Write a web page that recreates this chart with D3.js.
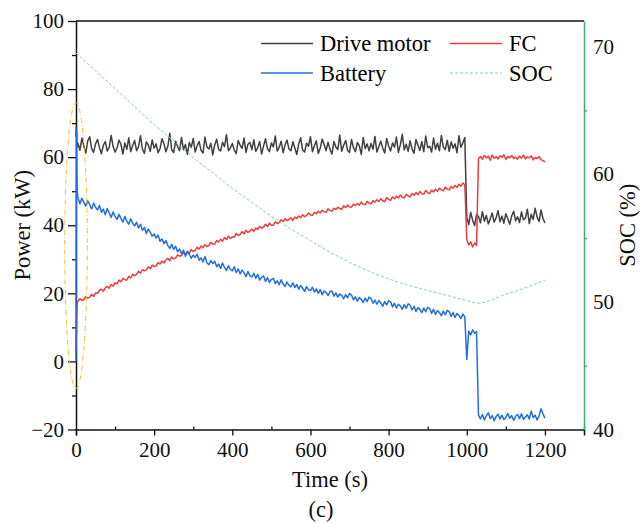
<!DOCTYPE html>
<html>
<head>
<meta charset="utf-8">
<script src="https://cdn.jsdelivr.net/npm/d3@7"></script>
<style>
  body { margin: 0; background: #fff; }
</style>
</head>
<body>
<svg id="chart" width="641" height="523" font-family="Liberation Serif"></svg>
<script>
// time axis (s)
const time = [0, 1, 2, 3].concat(d3.range(5, 1201, 5));

// power (kW)
const driveMotor = [66, 69, 65, 63,
  64.1, 62.0, 65.6, 63.3, 61.2, 64.8, 66.0, 62.5, 61.4, 63.9,
  65.2, 62.8, 61.0, 63.5, 64.6, 61.8, 62.9, 66.4, 63.1, 61.5,
  62.7, 65.0, 63.8, 60.9, 64.2, 62.3, 65.7, 61.6, 63.4, 64.9,
  61.9, 63.0, 66.3, 62.4, 61.1, 64.5, 63.6, 61.7, 65.1, 62.6,
  63.9, 61.3, 62.5, 65.4, 64.0, 61.6, 63.2, 67.0, 62.1, 61.4,
  64.7, 63.1, 61.9, 65.8, 62.2, 63.7, 60.8, 64.3, 62.9, 65.5,
  61.5, 63.4, 64.6, 62.0, 61.2, 65.9, 63.0, 62.4, 64.1, 60.7,
  63.6, 65.3, 62.3, 61.8, 64.4, 63.1, 66.6, 61.9, 62.7, 64.0,
  62.1, 61.0, 64.9, 63.5, 62.6, 65.6, 61.4, 63.8, 64.3, 62.2,
  65.1, 61.7, 62.8, 64.6, 60.9, 63.3, 65.4, 62.5, 61.6, 64.2,
  63.0, 66.2, 61.8, 62.9, 64.7, 61.3, 63.6, 65.0, 62.4, 61.9,
  64.5, 62.7, 60.8, 63.9, 65.7, 62.1, 61.5, 64.1, 63.2, 66.0,
  61.6, 63.3, 64.8, 61.1, 62.6, 65.3, 63.7, 61.9, 64.4, 62.3,
  60.9, 64.6, 63.0, 62.2, 66.5, 61.7, 63.5, 64.9, 62.0, 61.4,
  65.2, 62.8, 61.6, 64.3, 63.4, 60.8, 65.8, 62.5, 63.9, 61.9,
  64.0, 62.3, 66.1, 61.5, 63.1, 64.7, 62.6, 61.2, 65.5, 63.3,
  61.8, 64.2, 62.9, 65.9, 61.4, 63.6, 66.7, 62.1, 63.8, 61.7,
  64.8, 62.4, 61.1, 65.2, 63.5, 62.0, 64.6, 61.6, 66.2, 62.8,
  63.2, 61.5, 65.6, 62.3, 64.1, 61.9, 66.4, 63.0, 62.2, 65.0,
  61.7, 64.5, 62.6, 63.9, 61.3, 66.3, 62.9, 64.2, 65.8,
  42.3, 40.2, 43.8, 41.5, 39.9, 43.1, 42.6, 40.7, 44.0, 41.2,
  42.9, 40.4, 41.8, 43.6, 40.9, 42.2, 44.3, 41.0, 42.7, 40.6,
  43.4, 41.9, 40.3, 42.8, 44.1, 41.3, 42.5, 40.8, 43.9, 41.6,
  42.1, 44.7, 40.5, 43.2, 41.7, 45.0, 42.4, 41.1, 44.5, 42.0,
  40.7];

const fc = [3, 7, 13, 17,
  17.7, 18.4, 17.9, 18.2, 19.0, 18.6, 18.9, 19.7, 19.1, 20.1,
  20.0, 20.9, 21.2, 20.6, 21.7, 22.0, 21.5, 22.6, 22.1, 23.1,
  22.8, 23.9, 23.4, 24.4, 24.0, 23.9, 25.0, 24.5, 25.6, 25.2,
  25.6, 26.5, 25.9, 27.0, 26.6, 26.9, 27.8, 27.2, 28.3, 27.9,
  28.0, 29.0, 28.6, 29.5, 28.9, 29.8, 30.3, 29.6, 30.7, 30.1,
  30.4, 31.3, 30.9, 31.1, 32.0, 31.5, 32.4, 31.8, 32.9, 32.3,
  32.6, 33.5, 33.0, 33.9, 33.4, 34.3, 33.7, 34.0, 35.0, 34.4,
  34.5, 35.5, 35.1, 35.9, 35.3, 36.4, 35.8, 36.8, 36.1, 36.6,
  36.5, 37.6, 37.0, 37.3, 38.1, 37.5, 38.5, 37.9, 38.3, 38.9,
  38.2, 39.2, 38.8, 39.7, 39.1, 39.5, 40.3, 39.6, 40.6, 40.0,
  40.0, 41.0, 40.5, 40.8, 41.6, 41.1, 41.9, 41.3, 41.7, 42.2,
  41.4, 42.4, 42.0, 42.7, 42.2, 43.1, 42.5, 42.9, 43.6, 43.0,
  42.9, 43.8, 43.4, 44.1, 43.6, 44.4, 44.0, 43.8, 44.8, 44.3,
  44.1, 45.0, 44.6, 45.3, 44.9, 44.7, 45.7, 45.2, 45.9, 45.4,
  45.3, 46.2, 45.8, 46.4, 45.9, 46.8, 46.2, 46.0, 47.0, 46.5,
  46.3, 47.2, 46.8, 47.5, 47.0, 47.8, 47.2, 46.9, 48.1, 47.6,
  47.3, 48.3, 47.8, 48.5, 48.0, 48.9, 48.2, 48.0, 49.1, 48.6,
  48.3, 49.3, 48.8, 49.6, 49.0, 49.9, 49.3, 49.1, 50.2, 49.6,
  49.3, 50.3, 49.8, 50.6, 50.0, 50.9, 50.4, 50.1, 51.2, 50.6,
  50.4, 51.4, 50.9, 51.7, 51.1, 52.0, 51.5, 52.4, 51.9,
  35.8, 34.2, 35.1, 33.6, 34.8, 34.0, 59.6,
  60.2, 59.4, 60.5, 59.8, 60.3, 59.1, 60.6, 59.7, 60.1, 59.5,
  60.4, 59.9, 60.7, 59.3, 60.2, 59.8, 60.5, 59.6, 60.0, 59.4,
  60.3, 59.7, 60.6, 59.5, 60.1, 59.8, 60.4, 59.2, 59.9, 59.6,
  60.2, 59.3, 59.0, 58.6];

const battery = [0, 68, 58, 50,
  48.0, 46.3, 47.9, 46.8, 45.6, 47.2, 46.1, 44.8, 46.5, 45.3,
  44.5, 45.9, 43.8, 44.7, 43.1, 44.9, 43.6, 42.3, 43.9, 42.6,
  41.7, 43.2, 42.0, 40.9, 42.6, 41.2, 40.3, 41.9, 40.6, 39.8,
  40.9, 39.2, 40.3, 38.5, 39.4, 37.6, 38.9, 37.9, 36.8, 37.4,
  36.2, 37.1, 35.3, 36.0, 34.6, 35.5, 34.1, 33.2, 34.4, 32.9,
  33.8, 32.2, 33.0, 31.6, 32.7, 30.9, 32.1, 31.4, 30.3, 31.2,
  30.6, 31.5, 29.7, 30.4, 29.2, 30.8, 29.0, 28.4, 29.6, 28.7,
  29.4, 27.8, 28.6, 27.3, 28.9, 27.6, 26.7, 28.1, 27.0, 26.6,
  27.8, 26.1, 27.2, 25.7, 26.8, 26.0, 24.9, 26.4, 25.2, 24.8,
  25.9, 24.4, 25.6, 23.9, 24.7, 25.1, 23.5, 24.6, 23.2, 24.1,
  24.4, 22.9, 23.7, 22.5, 24.0, 22.8, 22.0, 23.3, 22.4, 21.9,
  23.1, 21.7, 22.6, 21.2, 22.3, 21.5, 20.6, 22.0, 21.0, 20.8,
  21.8, 20.4, 21.3, 20.0, 21.1, 19.6, 20.7, 20.2, 19.3, 20.5,
  20.7, 19.2, 20.1, 18.9, 19.8, 19.4, 18.4, 19.6, 18.7, 19.9,
  19.5, 18.1, 19.0, 17.7, 18.8, 18.2, 17.3, 18.6, 17.6, 18.9,
  18.5, 17.1, 18.0, 16.8, 17.9, 17.2, 16.2, 17.6, 16.6, 17.8,
  17.5, 16.0, 17.1, 15.7, 16.8, 16.3, 15.3, 16.7, 15.6, 16.9,
  16.5, 15.1, 16.2, 14.7, 15.8, 15.3, 14.3, 15.7, 14.6, 15.9,
  15.6, 14.1, 15.3, 13.8, 14.9, 14.4, 13.4, 14.8, 13.7, 15.0,
  14.6, 13.2, 14.4, 12.9, 14.1, 13.5, 12.6, 13.9, 13.1,
  0.6, 8.9, 7.8, 9.3, 8.2, 8.8, -15.8,
  -16.9, -15.6, -17.2, -16.0, -15.1, -16.8, -15.9, -17.4, -16.2, -15.5,
  -16.9, -15.8, -17.1, -16.4, -15.3, -16.7, -15.9, -17.3, -16.1, -15.6,
  -16.8, -15.4, -17.0, -16.3, -15.7, -16.9, -14.6, -16.5, -15.8, -17.2,
  -16.0, -13.9, -15.4, -16.7];

// SOC (%)
const socTime = [0, 50, 100, 150, 200, 250, 300, 350, 400, 450, 500, 550, 600,
  650, 700, 750, 800, 850, 900, 950, 1000, 1030, 1100, 1150, 1200];
const soc = [69.5, 68.1, 66.7, 65.3, 63.9, 62.6, 61.3, 60.1, 58.9, 57.8, 56.7, 55.7, 54.8,
  53.9, 53.1, 52.4, 51.8, 51.3, 50.9, 50.5, 50.1, 49.9, 50.6, 51.1, 51.7];

const xTicks = [0, 200, 400, 600, 800, 1000, 1200];
const xMinor = [100, 300, 500, 700, 900, 1100, 1300];
const yTicks = [-20, 0, 20, 40, 60, 80, 100];
const yMinor = [-10, 10, 30, 50, 70, 90];
const socTicks = [40, 50, 60, 70];
const socMinor = [45, 55, 65];

const FONT = "'Liberation Serif', serif";

const svg = d3.select("#chart");
const margin = { top: 21, right: 57, bottom: 93.5, left: 76 };
const width = 641 - margin.left - margin.right;
const height = 523 - margin.top - margin.bottom;

const x = d3.scaleLinear().domain([0, 1300]).range([0, width]);
const y = d3.scaleLinear().domain([-20, 100]).range([height, 0]);
const y2 = d3.scaleLinear().domain([40, 72]).range([height, 0]);

const g = svg.append("g").attr("transform", `translate(${margin.left}, ${margin.top})`);

// frame top
g.append("line").attr("x1", 0).attr("x2", width).attr("y1", 0).attr("y2", 0)
  .attr("stroke", "#111").attr("stroke-width", 1.5);

function styleAxis(sel, color) {
  sel.attr("font-family", null).attr("font-size", null);
  sel.select(".domain").attr("stroke", color).attr("stroke-width", 1.5);
  sel.selectAll(".tick line").attr("stroke", color).attr("stroke-width", 1.3);
  sel.selectAll(".tick text").attr("font-size", 21).attr("fill", "#111")
    .style("font-family", FONT);
}

// bottom axis
const xAxisG = g.append("g").attr("transform", `translate(0, ${height})`)
  .call(d3.axisBottom(x).tickValues(xTicks).tickFormat(d3.format("d"))
    .tickSizeOuter(0).tickSize(6).tickPadding(7));
styleAxis(xAxisG, "#111");
const xMinorG = g.append("g").attr("transform", `translate(0, ${height})`)
  .call(d3.axisBottom(x).tickValues(xMinor).tickFormat("").tickSize(-3).tickSizeOuter(0));
styleAxis(xMinorG, "#111");
xMinorG.select(".domain").remove();

// left axis
const yAxisG = g.append("g")
  .call(d3.axisLeft(y).tickValues(yTicks).tickFormat(d3.format("d"))
    .tickSize(8).tickSizeOuter(0).tickPadding(4));
styleAxis(yAxisG, "#111");
const yMinorG = g.append("g")
  .call(d3.axisLeft(y).tickValues(yMinor).tickFormat("").tickSize(4).tickSizeOuter(0));
styleAxis(yMinorG, "#111");
yMinorG.select(".domain").remove();

// right axis (SOC)
const y2AxisG = g.append("g").attr("transform", `translate(${width}, 0)`)
  .call(d3.axisRight(y2).tickValues(socTicks).tickSize(0).tickSizeOuter(0).tickPadding(9));
styleAxis(y2AxisG, "#2db56b");
const y2MinorG = g.append("g").attr("transform", `translate(${width}, 0)`)
  .call(d3.axisRight(y2).tickValues(socMinor).tickFormat("").tickSize(3).tickSizeOuter(0));
styleAxis(y2MinorG, "#2db56b");
y2MinorG.select(".domain").remove();

// series
const rows = time.map((t, i) => ({ t: t, dm: driveMotor[i], fc: fc[i], bat: battery[i] }));

const series = [
  { key: "dm", color: "#404040" },
  { key: "fc", color: "#ef3b3b" },
  { key: "bat", color: "#1f6fe0" }
];

series.forEach((s) => {
  const line = d3.line()
    .x((d) => x(d.t))
    .y((d) => y(d[s.key]))
    .curve(d3.curveLinear);
  g.append("path")
    .datum(rows)
    .attr("fill", "none")
    .attr("stroke", s.color)
    .attr("stroke-width", 1.5)
    .attr("stroke-linejoin", "round")
    .attr("d", line);
});

const socLine = d3.line()
  .x((d, i) => x(socTime[i]))
  .y((d) => y2(d))
  .curve(d3.curveMonotoneX);
g.append("path")
  .datum(soc)
  .attr("fill", "none")
  .attr("stroke", "#7fd3b2")
  .attr("stroke-width", 1)
  .attr("stroke-dasharray", "3,2")
  .attr("d", socLine);

// highlight ellipse near start
g.append("ellipse")
  .attr("cx", x(0))
  .attr("cy", y(34))
  .attr("rx", x(29) - x(0))
  .attr("ry", y(-8) - y(34))
  .attr("fill", "none")
  .attr("stroke", "#f5c030")
  .attr("stroke-width", 1)
  .attr("stroke-dasharray", "5,2,1,2");

// legend
const legend = [
  { name: "Drive motor", color: "#404040", dash: null, col: 0, row: 0 },
  { name: "FC", color: "#ef3b3b", dash: null, col: 1, row: 0 },
  { name: "Battery", color: "#1f6fe0", dash: null, col: 0, row: 1 },
  { name: "SOC", color: "#7fd3b2", dash: "3,2", col: 1, row: 1 }
];
const legG = svg.append("g");
legend.forEach((l) => {
  const lx = l.col === 0 ? 261 : 450;
  const ly = l.row === 0 ? 43.5 : 73;
  legG.append("line")
    .attr("x1", lx).attr("x2", lx + 52).attr("y1", ly).attr("y2", ly)
    .attr("stroke", l.color)
    .attr("stroke-width", l.dash ? 1 : 1.5)
    .attr("stroke-dasharray", l.dash);
  legG.append("text")
    .attr("x", lx + 59).attr("y", ly + 7.5)
    .attr("font-size", 22.5)
    .style("font-family", FONT)
    .text(l.name);
});

// axis titles
function title(sel) {
  return sel.attr("text-anchor", "middle").attr("font-size", 22.5)
    .attr("fill", "#111").style("font-family", FONT);
}
title(svg.append("text")).attr("x", margin.left + width / 2).attr("y", 487).text("Time (s)");
title(svg.append("text")).attr("x", 321).attr("y", 517).text("(c)");
title(svg.append("text"))
  .attr("transform", `translate(30, ${margin.top + y(40)}) rotate(-90)`)
  .text("Power (kW)");
title(svg.append("text"))
  .attr("transform", `translate(635, ${margin.top + y2(56)}) rotate(-90)`)
  .text("SOC (%)");
</script>
</body>
</html>
